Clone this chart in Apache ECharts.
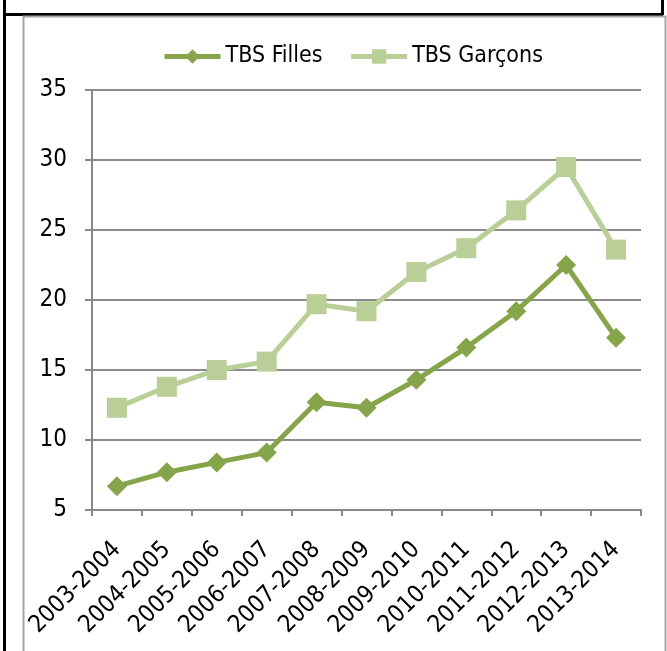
<!DOCTYPE html>
<html>
<head>
<meta charset="utf-8">
<script src="https://cdn.jsdelivr.net/npm/echarts@6/dist/echarts.min.js"></script>
<style>
html,body{margin:0;padding:0;background:#fff;}
#c{width:667px;height:651px;}
</style>
</head>
<body>
<div id="c"></div>
<script>
const categories = ['2003-2004','2004-2005','2005-2006','2006-2007','2007-2008','2008-2009','2009-2010','2010-2011','2011-2012','2012-2013','2013-2014'];
const tbsFilles = [6.7, 7.7, 8.4, 9.1, 12.7, 12.3, 14.3, 16.6, 19.2, 22.5, 17.3];
const tbsGarcons = [12.3, 13.8, 15.0, 15.6, 19.7, 19.2, 22.0, 23.7, 26.4, 29.5, 23.6];
const yTicks = [5, 10, 15, 20, 25, 30, 35];

const FONT = '"Liberation Sans Narrow", "DejaVu Sans Condensed", sans-serif';
const chart = echarts.init(document.getElementById('c'));
chart.setOption({
  animation: false,
  backgroundColor: '#fff',
  graphic: [
    { type: 'line', shape: { x1: 4.5, y1: 0, x2: 4.5, y2: 651 }, style: { stroke: '#000', lineWidth: 3 } },
    { type: 'line', shape: { x1: 3, y1: 14.5, x2: 663, y2: 14.5 }, style: { stroke: '#000', lineWidth: 3 } },
    { type: 'line', shape: { x1: 662.5, y1: 0, x2: 662.5, y2: 15 }, style: { stroke: '#000', lineWidth: 3 } },
    { type: 'polyline', shape: { points: [[23.5, 651], [23.5, 16.5], [665.5, 16.5], [665.5, 651]] }, style: { stroke: '#a6a6a6', lineWidth: 2, fill: null } }
  ],
  legend: {
    top: 40,
    left: 157,
    itemWidth: 56,
    itemHeight: 18,
    itemGap: 26,
    lineStyle: { width: 5 },
    textStyle: { fontFamily: FONT, fontSize: 23, color: '#000' },
    data: ['TBS Filles', 'TBS Garçons']
  },
  grid: { left: 92, right: 26, top: 90, bottom: 141, containLabel: false },
  xAxis: {
    type: 'category',
    data: categories,
    boundaryGap: true,
    axisLine: { lineStyle: { color: '#888', width: 2 } },
    axisTick: { show: true, length: 6, lineStyle: { color: '#888', width: 2 } },
    axisLabel: { rotate: 45, fontFamily: FONT, fontSize: 24, color: '#000', margin: 36, interval: 0 }
  },
  yAxis: {
    type: 'value',
    min: yTicks[0],
    max: yTicks[yTicks.length - 1],
    interval: 5,
    axisLine: { show: true, lineStyle: { color: '#888', width: 2 } },
    axisTick: { show: true, length: 7, lineStyle: { color: '#888', width: 2 } },
    axisLabel: { fontFamily: FONT, fontSize: 24, color: '#000', margin: 25 },
    splitLine: { show: true, lineStyle: { color: '#8c8c8c', width: 2 } }
  },
  series: [
    {
      name: 'TBS Filles',
      type: 'line',
      data: tbsFilles,
      symbol: 'diamond',
      symbolSize: 20,
      itemStyle: { color: '#86a44a' },
      lineStyle: { color: '#86a44a', width: 5 },
      z: 3
    },
    {
      name: 'TBS Garçons',
      type: 'line',
      data: tbsGarcons,
      symbol: 'rect',
      symbolSize: 20,
      itemStyle: { color: '#b9cf97' },
      lineStyle: { color: '#b9cf97', width: 5 },
      z: 2
    }
  ]
});
</script>
</body>
</html>
